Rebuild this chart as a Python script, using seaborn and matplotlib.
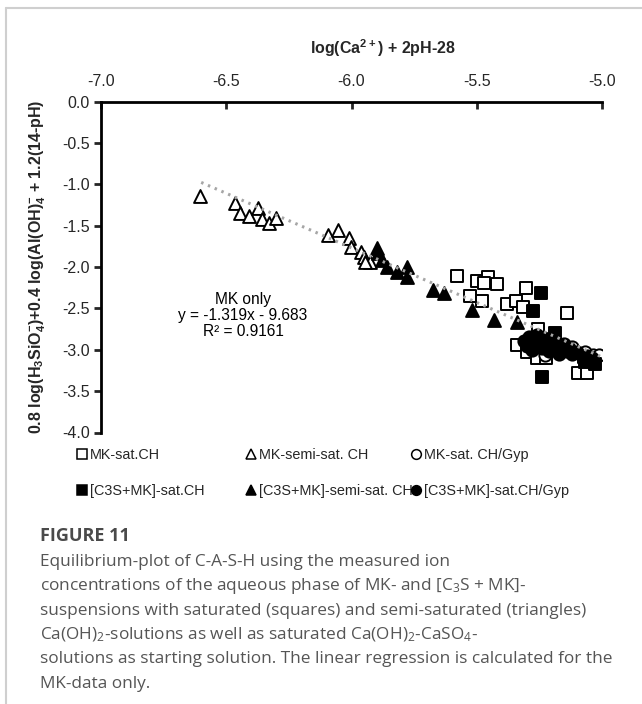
import matplotlib
matplotlib.use("Agg")
import matplotlib.pyplot as plt
from matplotlib.lines import Line2D
import seaborn as sns
import numpy as np

# ---------------- data ----------------
mk_sat_x = [-5.579, -5.499, -5.455, -5.471, -5.419, -5.527, -5.479, -5.303, -5.379, -5.343,
            -5.315, -5.140, -5.256, -5.339, -5.299, -5.260, -5.224, -5.096, -5.060, -5.20, -5.15]
mk_sat_y = [-2.105, -2.165, -2.117, -2.189, -2.202, -2.346, -2.406, -2.250, -2.443, -2.406,
            -2.479, -2.551, -2.744, -2.937, -3.022, -3.094, -3.094, -3.275, -3.275, -2.95, -3.00]

mk_semi_x = [-6.605, -6.465, -6.445, -6.409, -6.373, -6.357, -6.329, -6.301,
             -6.094, -6.054, -6.010, -6.002, -5.962, -5.950, -5.926, -5.946]
mk_semi_y = [-1.140, -1.224, -1.345, -1.381, -1.285, -1.417, -1.466, -1.405,
             -1.610, -1.550, -1.647, -1.755, -1.815, -1.876, -1.936, -1.936]

mk_gyp_x = [-5.120, -5.036, -5.012, -5.068, -5.168, -5.228, -5.287, -5.208]
mk_gyp_y = [-2.961, -3.058, -3.058, -3.022, -2.998, -3.058, -2.937, -2.877]

c3s_sat_x = [-5.244, -5.275, -5.188, -5.240, -5.068, -5.028, -5.07]
c3s_sat_y = [-2.310, -2.527, -2.793, -3.335, -3.154, -3.178, -3.09]

c3s_semi_x = [-5.898, -5.894, -5.878, -5.858, -5.818, -5.778, -5.778, -5.675, -5.631,
              -5.519, -5.431, -5.339]
c3s_semi_y = [-1.767, -1.828, -1.912, -1.996, -2.057, -1.996, -2.117, -2.274, -2.310,
              -2.515, -2.636, -2.660]

c3s_gyp_x = [-5.31, -5.29, -5.27, -5.25, -5.24, -5.22, -5.20, -5.18, -5.16, -5.14, -5.12,
             -5.10, -5.28, -5.26, -5.23, -5.21, -5.19, -5.17, -5.30, -5.27, -5.15, -5.13,
             -5.06, -5.04]
c3s_gyp_y = [-2.90, -2.85, -2.95, -2.88, -2.98, -2.92, -2.95, -3.00, -2.97, -3.02, -3.05,
             -3.03, -3.00, -2.82, -2.86, -3.02, -2.90, -3.05, -2.95, -2.92, -2.93, -2.98,
             -3.08, -3.10]

fit_slope = -1.319
fit_intercept = -9.683
fit_x_range = [-6.6, -5.0]

x_ticks = [-7.0, -6.5, -6.0, -5.5, -5.0]
y_ticks = [0.0, -0.5, -1.0, -1.5, -2.0, -2.5, -3.0, -3.5, -4.0]

labels = ["MK-sat.CH", "MK-semi-sat. CH", "MK-sat. CH/Gyp",
          "[C3S+MK]-sat.CH", "[C3S+MK]-semi-sat. CH", "[C3S+MK]-sat.CH/Gyp"]

caption_title = "FIGURE 11"
caption_lines = [
    "Equilibrium-plot of C-A-S-H using the measured ion",
    r"concentrations of the aqueous phase of MK- and [C$_3$S + MK]-",
    "suspensions with saturated (squares) and semi-saturated (triangles)",
    r"Ca(OH)$_2$-solutions as well as saturated Ca(OH)$_2$-CaSO$_4$-",
    "solutions as starting solution. The linear regression is calculated for the",
    "MK-data only.",
]

# ---------------- style ----------------
sns.set_style("white")
plt.rcParams["font.family"] = ["Liberation Sans", "DejaVu Sans"]
plt.rcParams["axes.unicode_minus"] = False
plt.rcParams["mathtext.fontset"] = "custom"
plt.rcParams["mathtext.rm"] = "Liberation Sans"
plt.rcParams["mathtext.bf"] = "Liberation Sans:bold"
plt.rcParams["mathtext.default"] = "regular"

fig = plt.figure(figsize=(6.42, 7.04), dpi=100)
ax = fig.add_axes([101 / 642, 1 - 432.5 / 704, (602 - 101) / 642, (432.5 - 101.5) / 704])

S = 78
LW = 1.4
sns.scatterplot(x=mk_sat_x, y=mk_sat_y, marker="s", s=S, color="white",
                edgecolor="black", linewidth=LW, ax=ax, zorder=3)
sns.scatterplot(x=mk_semi_x, y=mk_semi_y, marker="^", s=S * 1.1, color="white",
                edgecolor="black", linewidth=LW, ax=ax, zorder=3)
sns.scatterplot(x=mk_gyp_x, y=mk_gyp_y, marker="o", s=S, color="white",
                edgecolor="black", linewidth=LW, ax=ax, zorder=3)
sns.scatterplot(x=c3s_sat_x, y=c3s_sat_y, marker="s", s=S, color="black",
                edgecolor="black", linewidth=LW, ax=ax, zorder=4)
sns.scatterplot(x=c3s_semi_x, y=c3s_semi_y, marker="^", s=S * 1.1, color="black",
                edgecolor="black", linewidth=LW, ax=ax, zorder=4)
sns.scatterplot(x=c3s_gyp_x, y=c3s_gyp_y, marker="o", s=S, color="black",
                edgecolor="black", linewidth=LW, ax=ax, zorder=4)

fx = np.array(fit_x_range)
ax.plot(fx, fit_slope * fx + fit_intercept, color="#a6a6a6", lw=2.2,
        linestyle=(0, (0.8, 1.6)), zorder=5)

ax.text(-6.433, -2.59, "MK only\ny = -1.319x - 9.683\nR² = 0.9161", ha="center",
        va="center", fontsize=11.2, linespacing=1.08, color="black")

ax.set_xlim(-7.0, -5.0)
ax.set_ylim(-4.0, 0.0)
ax.set_xticks(x_ticks)
ax.set_yticks(y_ticks)
ax.set_xticklabels([f"{v:.1f}" for v in x_ticks])
ax.set_yticklabels([f"{v:.1f}" for v in y_ticks])
ax.xaxis.tick_top()
ax.xaxis.set_label_position("top")
for side in ["bottom", "right"]:
    ax.spines[side].set_visible(False)
for side in ["top", "left"]:
    ax.spines[side].set_visible(True)
    ax.spines[side].set_color("black")
    ax.spines[side].set_linewidth(2)
ax.tick_params(axis="x", direction="in", length=5, width=2, labelsize=11.5, pad=9)
ax.tick_params(axis="y", direction="out", length=5, width=2, labelsize=11.5, pad=3,
               left=True)
ax.set_xlabel(r"log(Ca$^{\mathbf{2+}}$) + 2pH-28", fontsize=11.5, fontweight="bold")
ax.xaxis.set_label_coords(0.562, 1 + 53 / 331)
ax.xaxis.label.set_verticalalignment("center")
ax.set_ylabel(r"0.8 log(H$_{\mathbf{3}}$SiO$_{\mathbf{4}}^{\mathbf{-}}$)+0.4 log(Al(OH)$_{\mathbf{4}}^{\mathbf{-}}$ + 1.2(14-pH)",
              fontsize=11.5, fontweight="bold", labelpad=10)

# legend: three columns placed individually
def h(marker, fc):
    return Line2D([], [], marker=marker, linestyle="none", markersize=7,
                  markerfacecolor=fc, markeredgecolor="black", markeredgewidth=1.1)

cols = [
    ([h("s", "white"), h("s", "black")], [labels[0], labels[3]], 78),
    ([h("^", "white"), h("^", "black")], [labels[1], labels[4]], 247),
    ([h("o", "white"), h("o", "black")], [labels[2], labels[5]], 412),
]
for handles, labs, px in cols:
    fig.legend(handles, labs, loc="upper left", bbox_to_anchor=(px / 642, 1 - 448 / 704),
               frameon=False, fontsize=10.4, handlelength=0.6, handletextpad=0.2,
               labelspacing=1.5, borderaxespad=0, borderpad=0)

# frame border
fig.add_artist(Line2D([6 / 642, 1], [1 - 8 / 704, 1 - 8 / 704], color="#cfcfcf", lw=1.5))
fig.add_artist(Line2D([6 / 642, 6 / 642], [0, 1 - 8 / 704], color="#cfcfcf", lw=1.5))

# caption
cap_font = ["Open Sans", "DejaVu Sans"]
fig.text(40 / 642, 1 - 536 / 704, caption_title, fontsize=13, fontweight="bold",
         color="#4a4a4a", family=cap_font, va="center", ha="left")
for i, line in enumerate(caption_lines):
    fig.text(40 / 642, 1 - (562 + 24.3 * i) / 704, line, fontsize=12.4, color="#555555",
             family=cap_font, va="center", ha="left")

fig.savefig("out.png", dpi=100, facecolor="white")
